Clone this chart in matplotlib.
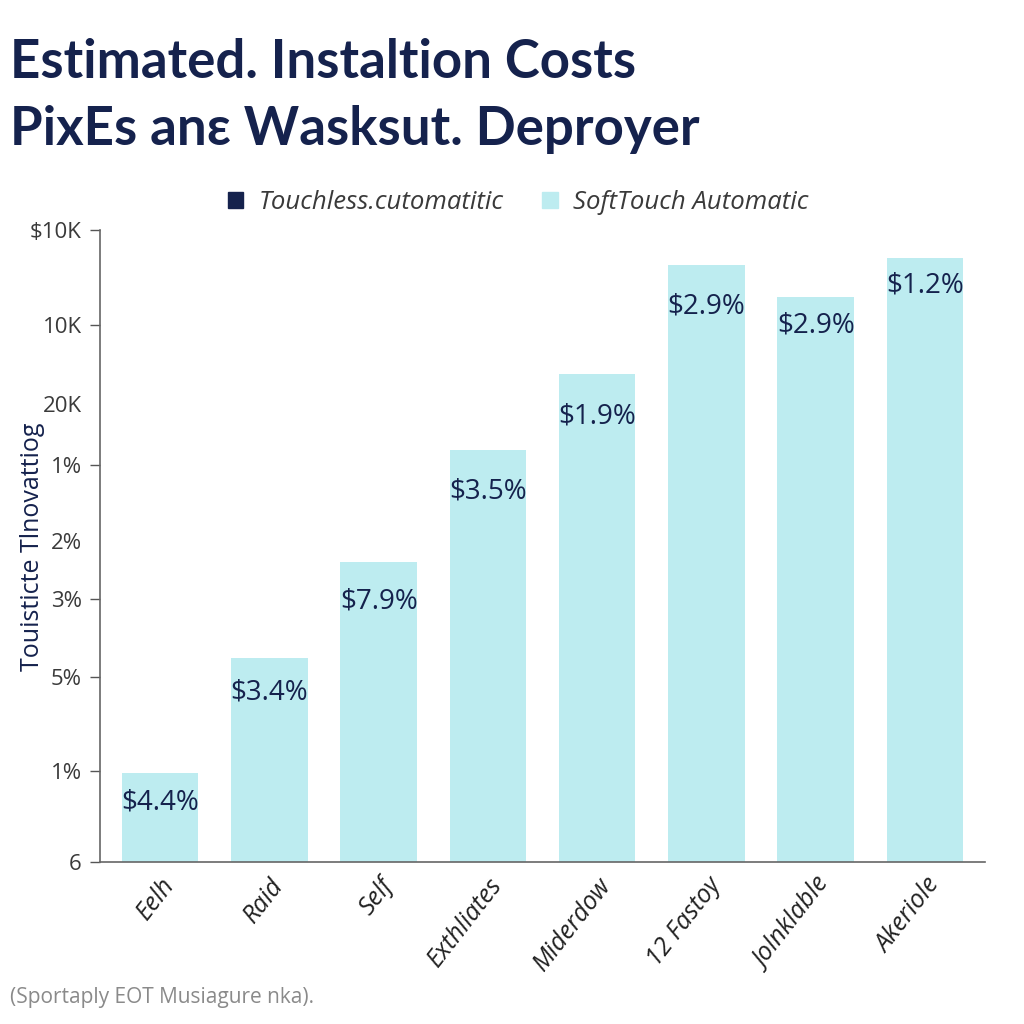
import matplotlib
matplotlib.use("Agg")
import matplotlib.pyplot as plt
from matplotlib.patches import Patch

categories = ["Eelh", "Raid", "Self", "Exthliates", "Miderdow", "12 Fastoy", "Jolnklable", "Akeriole"]
soft_touch = [14.1, 32.3, 47.5, 65.2, 77.2, 94.5, 89.4, 95.6]
bar_labels = ["$4.4%", "$3.4%", "$7.9%", "$3.5%", "$1.9%", "$2.9%", "$2.9%", "$1.2%"]
label_offsets = [4.6, 5.4, 6.3, 6.5, 6.6, 6.6, 4.5, 4.3]
major_ticks = [0, 14.4, 29.3, 41.6, 62.9, 85, 100]
major_labels = ["6", "1%", "5%", "3%", "1%", "10K", "$10K"]
minor_ticks = [50.8, 72.6]
minor_labels = ["2%", "20K"]

NAVY = "#15224d"
BAR = "#bdecf0"

fig = plt.figure(figsize=(10.24, 10.24), dpi=100)
ax = fig.add_axes([0.0977, 0.158, 0.8643, 0.617])

x = list(range(len(categories)))
ax.bar(x, soft_touch, width=0.70, color=BAR, zorder=2)
for xi, v, lab, off in zip(x, soft_touch, bar_labels, label_offsets):
    ax.text(xi, v - off, lab, ha="center", va="center", fontsize=20,
            color=NAVY, family="Open Sans", zorder=3)

ax.set_xlim(-0.55, 7.55)
ax.set_ylim(0, 100)
ax.set_yticks(major_ticks)
ax.set_yticklabels(major_labels)
ax.set_yticks(minor_ticks, minor=True)
ax.set_yticklabels(minor_labels, minor=True)
ax.tick_params(axis="y", which="major", length=7, width=1, color="#555555",
               labelsize=16, labelcolor="#3a3a3a", pad=6)
ax.tick_params(axis="y", which="minor", length=0, labelsize=16,
               labelcolor="#3a3a3a", pad=13)
for t in ax.get_yticklabels() + ax.get_yticklabels(minor=True):
    t.set_family("Open Sans")

ax.set_xticks(x)
ax.set_xticklabels(categories, rotation=52, ha="right", rotation_mode="anchor",
                   fontsize=18, color="#222222", style="italic", family="Open Sans")
ax.tick_params(axis="x", length=0, pad=8)

for s in ["top", "right"]:
    ax.spines[s].set_visible(False)
ax.spines["left"].set_color("#666666")
ax.spines["bottom"].set_color("#666666")
ax.spines["left"].set_linewidth(1.2)
ax.spines["bottom"].set_linewidth(1.2)

ax.set_ylabel("Touisticte Tlnovattiog", fontsize=18, color=NAVY, family="Open Sans")
ax.yaxis.set_label_coords(-0.062, 0.5)

handles = [Patch(color=NAVY), Patch(color=BAR)]
leg = fig.legend(handles, ["Touchless.cutomatitic", "SoftTouch Automatic"],
                 loc="center", bbox_to_anchor=(0.506, 0.802), ncol=2, frameon=False,
                 handlelength=0.6, handleheight=0.6, handletextpad=0.6, columnspacing=1.5,
                 prop={"family": "Open Sans", "style": "italic", "size": 18.5})
for t in leg.get_texts():
    t.set_color("#3a3a3a")

fig.text(0.01, 0.939, "Estimated. Instaltion Costs", fontsize=38, fontweight="bold",
         color=NAVY, family="Lato", ha="left", va="center")
fig.text(0.01, 0.874, "PixEs anε Wasksut. Deproyer", fontsize=38, fontweight="bold",
         color=NAVY, family="Lato", ha="left", va="center")

fig.text(0.01, 0.026, "(Sportaply EOT Musiagure nka).", fontsize=15, color="#8a8a8a",
         family="Open Sans", ha="left", va="center")

fig.savefig("out.png", dpi=100, facecolor="white")
